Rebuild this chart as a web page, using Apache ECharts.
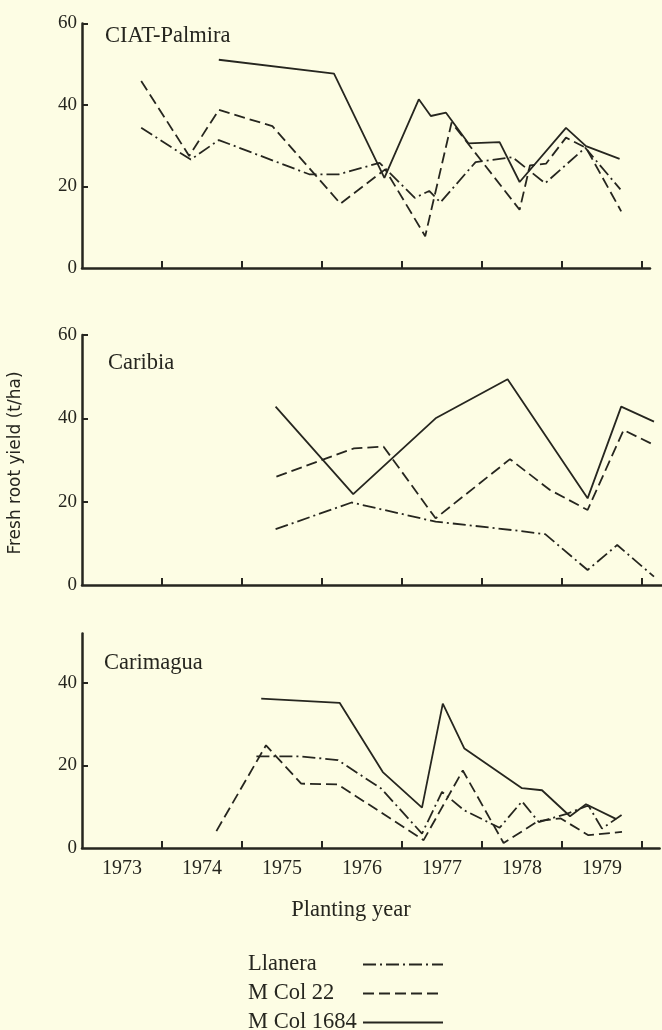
<!DOCTYPE html>
<html>
<head>
<meta charset="utf-8">
<style>
  html, body { margin: 0; padding: 0; background: #FDFDE4; }
  #chart { width: 662px; height: 1030px; }
</style>
<script src="https://cdn.jsdelivr.net/npm/echarts@6/dist/echarts.min.js"></script>
</head>
<body>
<div id="chart"></div>
<script>
// ---- data ----
const sites = ['CIAT-Palmira', 'Caribia', 'Carimagua'];
const varieties = ['Llanera', 'M Col 22', 'M Col 1684'];
const yearLabels = ['1973', '1974', '1975', '1976', '1977', '1978', '1979'];
const yTickLabels = [[0, 20, 40, 60], [0, 20, 40, 60], [0, 20, 40]];

// CIAT-Palmira
const palmiraLlanera = [[1973.74,34.4],[1974.36,26.6],[1974.71,31.4],[1975.84,23],[1976.21,23],[1976.72,25.8],[1977.16,17.2],[1977.34,18.9],[1977.48,16.1],[1977.92,26],[1978.38,27.2],[1978.79,20.8],[1979.29,29.5],[1979.73,19.3]];
const palmiraMCol22 = [[1973.74,45.9],[1974.34,27.5],[1974.71,38.8],[1975.38,34.8],[1976.23,15.8],[1976.79,24.2],[1977.29,7.8],[1977.62,35.7],[1978.47,14.3],[1978.6,25.2],[1978.8,25.6],[1979.05,32],[1979.3,29.5],[1979.74,13.9]];
const palmiraMCol1684 = [[1974.71,51.1],[1976.15,47.7],[1976.78,22.1],[1977.21,41.4],[1977.36,37.3],[1977.55,38.1],[1977.83,30.6],[1978.22,30.9],[1978.47,21.1],[1979.05,34.4],[1979.3,29.9],[1979.72,26.8]];

// Caribia
const caribiaLlanera = [[1975.42,13.4],[1976.37,19.8],[1977.42,15.2],[1977.81,14.4],[1978.37,13.2],[1978.79,12.2],[1979.32,3.6],[1979.69,9.6],[1980.15,2]];
const caribiaMCol22 = [[1975.43,26],[1976.4,32.8],[1976.77,33.2],[1977.42,16],[1978.35,30.2],[1978.85,22.8],[1979.32,18],[1979.77,37.2],[1980.15,33.6]];
const caribiaMCol1684 = [[1975.42,42.8],[1976.39,21.8],[1977.42,40],[1978.32,49.4],[1979.32,20.8],[1979.74,42.8],[1980.15,39.2]];

// Carimagua
const carimaguaLlanera = [[1975.18,22.2],[1975.74,22.2],[1976.2,21.3],[1976.74,14.4],[1977.25,3.5],[1977.5,13.6],[1977.78,9.1],[1978.22,4.9],[1978.5,11.3],[1978.71,6.3],[1979.06,8.3],[1979.33,10.3],[1979.5,4.7],[1979.78,8.5]];
const carimaguaMCol22 = [[1974.68,4.1],[1975.3,24.9],[1975.74,15.6],[1976.2,15.4],[1977.27,1.9],[1977.76,18.8],[1978.27,1.2],[1978.7,6.5],[1978.98,7.2],[1979.33,3.1],[1979.75,3.9]];
const carimaguaMCol1684 = [[1975.24,36.2],[1976.22,35.2],[1976.76,18.4],[1977.25,9.8],[1977.51,35],[1977.78,24.1],[1978.5,14.5],[1978.75,14],[1979.1,7.7],[1979.3,10.6],[1979.68,7]];

const panelData = [
  [palmiraLlanera, palmiraMCol22, palmiraMCol1684],
  [caribiaLlanera, caribiaMCol22, caribiaMCol1684],
  [carimaguaLlanera, carimaguaMCol22, carimaguaMCol1684]
];

// ---- layout / style ----
const INK = '#26261f';
const FONT = 'Liberation Serif';
const pxPerYear = 80;
const xMax = [1980.1, 1980.25, 1980.22];
const yMax = [60, 60, 52];
const gridTop = [23.5, 335, 633.5];
const gridHeight = [244.5, 250, 214.5];
const dashStyles = [[13, 4, 2, 4], [11, 5], 'solid'];

const grids = [], xAxes = [], yAxes = [], series = [];
for (let p = 0; p < 3; p++) {
  grids.push({ left: 82, top: gridTop[p], width: pxPerYear * (xMax[p] - 1973), height: gridHeight[p], containLabel: false });
  xAxes.push({
    type: 'value', gridIndex: p, min: 1973, max: xMax[p],
    axisLine: { show: true, lineStyle: { color: INK, width: 2.5 } },
    axisTick: { show: true, inside: true, length: 7, lineStyle: { color: INK, width: 2 },
      customValues: yearLabels.map((y) => Number(y) + 1) },
    axisLabel: { show: p === 2, margin: 11, color: INK, fontFamily: FONT, fontSize: 20,
      customValues: yearLabels.map((y) => Number(y) + 0.5),
      formatter: (v) => yearLabels[Math.floor(v) - 1973] },
    splitLine: { show: false }
  });
  yAxes.push({
    type: 'value', gridIndex: p, min: 0, max: yMax[p],
    axisLine: { show: true, onZero: false, lineStyle: { color: INK, width: 2.5 } },
    axisTick: { show: true, inside: true, length: 6, lineStyle: { color: INK, width: 2 },
      customValues: yTickLabels[p].filter((v) => v > 0) },
    axisLabel: { show: true, margin: 5, color: INK, fontFamily: FONT, fontSize: 19,
      customValues: yTickLabels[p] },
    splitLine: { show: false }
  });
  for (let v = 0; v < 3; v++) {
    series.push({
      type: 'line', name: varieties[v], xAxisIndex: p, yAxisIndex: p,
      data: panelData[p][v], symbol: 'none', smooth: false, animation: false,
      itemStyle: { color: INK },
      lineStyle: { color: INK, width: 1.8, type: dashStyles[v] }
    });
  }
}

// measure legend text so every legend line starts at the same x
const measureCtx = document.createElement('canvas').getContext('2d');
measureCtx.font = '22.5px "Liberation Serif"';
const legendTextBox = 110;
const legends = varieties.map((name, i) => {
  const w = measureCtx.measureText(name).width;
  const pad = Math.max(0, legendTextBox - w);
  return {
    data: [name],
    orient: 'horizontal', align: 'right',
    left: 248, top: 953 + 29 * i, padding: 0,
    itemWidth: 80, itemHeight: 14, itemGap: 0,
    selectedMode: false,
    itemStyle: { opacity: 0 },
    textStyle: { fontFamily: FONT, fontSize: 22.5, color: INK, padding: [0, pad, 0, 0] }
  };
});

const TITLE_FONT = '22.5px "Liberation Serif"';
const chart = echarts.init(document.getElementById('chart'), null, { renderer: 'canvas' });
chart.setOption({
  backgroundColor: '#FDFDE4',
  animation: false,
  textStyle: { fontFamily: FONT, color: INK },
  grid: grids,
  xAxis: xAxes,
  yAxis: yAxes,
  series: series,
  legend: legends,
  graphic: [
    { type: 'text', x: 105, y: 36, style: { text: sites[0], font: TITLE_FONT, fill: INK, verticalAlign: 'middle' } },
    { type: 'text', x: 108, y: 363, style: { text: sites[1], font: TITLE_FONT, fill: INK, verticalAlign: 'middle' } },
    { type: 'text', x: 104, y: 663, style: { text: sites[2], font: TITLE_FONT, fill: INK, verticalAlign: 'middle' } },
    { type: 'text', x: 351, y: 910, style: { text: 'Planting year', font: TITLE_FONT, fill: INK, align: 'center', verticalAlign: 'middle' } },
    { type: 'text', x: 16, y: 463, rotation: Math.PI / 2, style: { text: 'Fresh root yield (t/ha)', font: '17px "DejaVu Sans"', fill: INK, align: 'center', verticalAlign: 'middle' } }
  ]
});
</script>
</body>
</html>
